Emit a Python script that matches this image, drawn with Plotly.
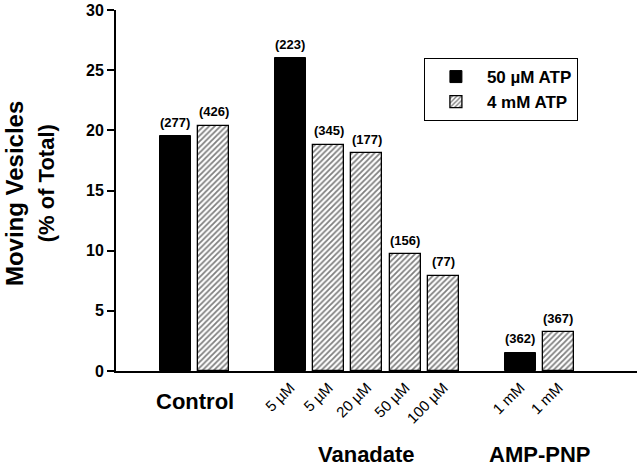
import plotly.graph_objects as go

# ---- data ----
groups = ["Control", "Vanadate", "AMP-PNP"]
black_labels = ["Control", "5 µM", "1 mM"]
black_values = [19.5, 26.0, 1.5]
black_counts = ["(277)", "(223)", "(362)"]
black_group = [0, 1, 2]

hatch_labels = ["Control", "5 µM", "20 µM", "50 µM", "100 µM", "1 mM"]
hatch_values = [20.4, 18.8, 18.1, 9.7, 7.9, 3.2]
hatch_counts = ["(426)", "(345)", "(177)", "(156)", "(77)", "(367)"]
hatch_group = [0, 1, 1, 1, 1, 2]

y_ticks = [0, 5, 10, 15, 20, 25, 30]

# ---- slot layout: within each group, black bars first, then hatched; one empty slot between groups
order = []
for g in range(len(groups)):
    for i, gg in enumerate(black_group):
        if gg == g:
            order.append(("b", i))
    for i, gg in enumerate(hatch_group):
        if gg == g:
            order.append(("h", i))
pos = {}
slot = 0
prev_g = 0
group_slots = {0: [], 1: [], 2: []}
for s, i in order:
    g = black_group[i] if s == "b" else hatch_group[i]
    if g != prev_g:
        slot += 1
        prev_g = g
    pos[(s, i)] = slot
    group_slots[g].append(slot)
    slot += 1

bx = [pos[("b", i)] for i in range(len(black_values))]
hx = [pos[("h", i)] for i in range(len(hatch_values))]

FONT = "Liberation Sans, Arial, sans-serif"

fig = go.Figure()
fig.add_trace(go.Bar(
    x=bx, y=black_values, name="50 µM ATP", width=0.81,
    marker=dict(color="black", line=dict(color="black", width=1)),
))
fig.add_trace(go.Bar(
    x=hx, y=hatch_values, name="4 mM ATP", width=0.81,
    marker=dict(color="white", line=dict(color="black", width=1.3),
                pattern=dict(shape="/", size=4, solidity=0.45, fgcolor="black", bgcolor="white")),
))

ann = []
for xs, vs, cs in [(bx, black_values, black_counts), (hx, hatch_values, hatch_counts)]:
    for x, v, c in zip(xs, vs, cs):
        ann.append(dict(x=x, y=v, xref="x", yref="y", text="<b>%s</b>" % c, showarrow=False,
                        yanchor="middle", yshift=14, font=dict(size=13, color="black", family=FONT)))

tickvals, ticktext = [], []
for xs, labs, grp in [(bx, black_labels, black_group), (hx, hatch_labels, hatch_group)]:
    for x, l, g in zip(xs, labs, grp):
        if g != 0:
            tickvals.append(x)
            ticktext.append(l)

for g, name in enumerate(groups):
    xs = group_slots[g]
    cx = sum(xs) / len(xs)
    ann.append(dict(x=cx, y=0, xref="x", yref="paper", text="<b>%s</b>" % name, showarrow=False,
                    yanchor="middle", yshift=(-30 if g == 0 else -83),
                    font=dict(size=22, color="black", family=FONT)))

ann.append(dict(x=0, y=0.49, xref="paper", yref="paper", text="<b>Moving Vesicles</b>", showarrow=False,
                textangle=-90, xanchor="center", yanchor="middle", xshift=-102,
                font=dict(size=24, color="black", family=FONT)))
ann.append(dict(x=0, y=0.52, xref="paper", yref="paper", text="<b>(% of Total)</b>", showarrow=False,
                textangle=-90, xanchor="center", yanchor="middle", xshift=-70,
                font=dict(size=22, color="black", family=FONT)))

fig.update_layout(
    width=640, height=466,
    margin=dict(l=116, r=3, t=10, b=95),
    paper_bgcolor="white", plot_bgcolor="white",
    font=dict(family=FONT, color="black"),
    showlegend=True,
    legend=dict(x=0.591, y=0.867, xanchor="left", yanchor="top",
                bordercolor="black", borderwidth=1, bgcolor="white",
                font=dict(size=17, family=FONT, color="black", weight="bold"),
                itemwidth=52, tracegroupgap=0),
    annotations=ann,
    bargap=0,
)
fig.update_xaxes(range=[-1.55, 12.05], tickvals=tickvals, ticktext=ticktext, tickangle=-45,
                 showline=True, linecolor="black", linewidth=2, ticks="", showgrid=False,
                 zeroline=False, tickfont=dict(size=15, family=FONT, color="black"))
fig.update_yaxes(range=[0, 30], tickvals=y_ticks, showline=True, linecolor="black", linewidth=2,
                 ticks="outside", ticklen=7, tickwidth=2, tickcolor="black", showgrid=False,
                 zeroline=False, tickfont=dict(size=16, family=FONT, color="black", weight="bold"))

fig.write_html("out.html", config={"displayModeBar": False},
               post_script="document.body.style.margin='0';")
